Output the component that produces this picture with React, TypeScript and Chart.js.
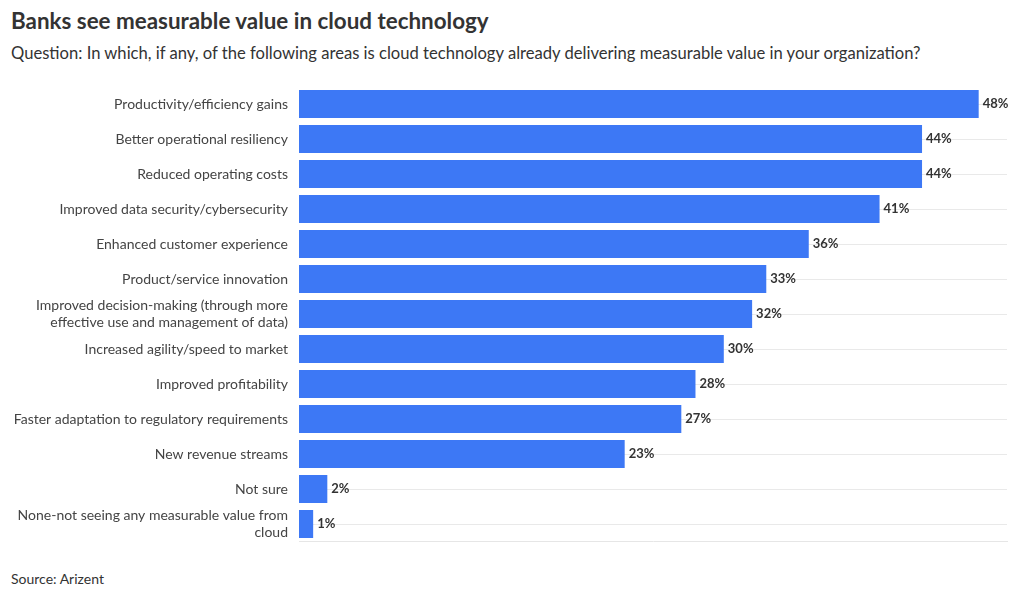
import React, { useEffect, useRef } from "react";
import { Chart, registerables } from "chart.js";

Chart.register(...registerables);

const TITLE = "Banks see measurable value in cloud technology";
const SUBTITLE =
  "Question: In which, if any, of the following areas is cloud technology already delivering measurable value in your organization?";
const SOURCE = "Source: Arizent";

const categories: (string | string[])[] = [
  "Productivity/efficiency gains",
  "Better operational resiliency",
  "Reduced operating costs",
  "Improved data security/cybersecurity",
  "Enhanced customer experience",
  "Product/service innovation",
  ["Improved decision-making (through more", "effective use and management of data)"],
  "Increased agility/speed to market",
  "Improved profitability",
  "Faster adaptation to regulatory requirements",
  "New revenue streams",
  "Not sure",
  ["None-not seeing any measurable value from", "cloud"],
];

const values: number[] = [48, 44, 44, 41, 36, 33, 32, 30, 28, 27, 23, 2, 1];

const X_MAX = 50;
const FONT = "Lato, 'Noto Sans', sans-serif";

export default function App() {
  const ref = useRef<HTMLCanvasElement | null>(null);

  useEffect(() => {
    document.body.style.margin = "0";
    if (!ref.current) return;
    const labelPlugin = {
      id: "valueLabels",
      afterDatasetsDraw(chart: any) {
        const ctx = chart.ctx;
        const meta = chart.getDatasetMeta(0);
        ctx.save();
        ctx.font = `bold 13px ${FONT}`;
        ctx.fillStyle = "#333333";
        ctx.textAlign = "left";
        ctx.textBaseline = "middle";
        meta.data.forEach((bar: any, i: number) => {
          ctx.fillText(values[i] + "%", bar.x + 4, bar.y);
        });
        ctx.restore();
      },
    };
    const chart = new Chart(ref.current, {
      type: "bar",
      data: {
        labels: categories,
        datasets: [
          {
            data: values,
            backgroundColor: "#3d78f5",
            barPercentage: 1,
            categoryPercentage: 0.8,
          },
        ],
      },
      plugins: [labelPlugin],
      options: {
        indexAxis: "y",
        animation: false,
        responsive: false,
        maintainAspectRatio: false,
        layout: { padding: { left: 0, right: 13, top: 6.5, bottom: 8.5 } },
        plugins: {
          legend: { display: false },
          tooltip: { enabled: false },
        },
        scales: {
          x: {
            min: 0,
            max: X_MAX,
            ticks: { display: false },
            grid: { display: false, drawTicks: false },
            border: { display: true, color: "#e6e6e6" },
          },
          y: {
            afterFit: (scale: any) => {
              scale.width = 299;
              scale.paddingTop = 0;
              scale.paddingBottom = 0;
            },
            ticks: {
              color: "#444444",
              font: { family: FONT, size: 14 },
              padding: 11,
              autoSkip: false,
            },
            grid: { offset: false, color: "#e9e9e9", drawTicks: false },
            border: { display: false },
          },
        },
      },
    });
    return () => chart.destroy();
  }, []);

  return (
    <div
      style={{
        position: "fixed",
        left: 0,
        top: 0,
        width: 1020,
        height: 598,
        background: "#ffffff",
        fontFamily: FONT,
        overflow: "hidden",
      }}
    >
      <div
        style={{
          position: "absolute",
          left: 11,
          top: 7,
          fontSize: 22.4,
          fontWeight: 700,
          color: "#333333",
          whiteSpace: "nowrap",
        }}
      >
        {TITLE}
      </div>
      <div
        style={{
          position: "absolute",
          left: 11,
          top: 43,
          fontSize: 16.6,
          color: "#333333",
          whiteSpace: "nowrap",
        }}
      >
        {SUBTITLE}
      </div>
      <canvas
        ref={ref}
        width={1020}
        height={470}
        style={{ position: "absolute", left: 0, top: 80, width: 1020, height: 470 }}
      />
      <div
        style={{
          position: "absolute",
          left: 11,
          top: 570,
          fontSize: 14,
          color: "#333333",
          whiteSpace: "nowrap",
        }}
      >
        {SOURCE}
      </div>
    </div>
  );
}
